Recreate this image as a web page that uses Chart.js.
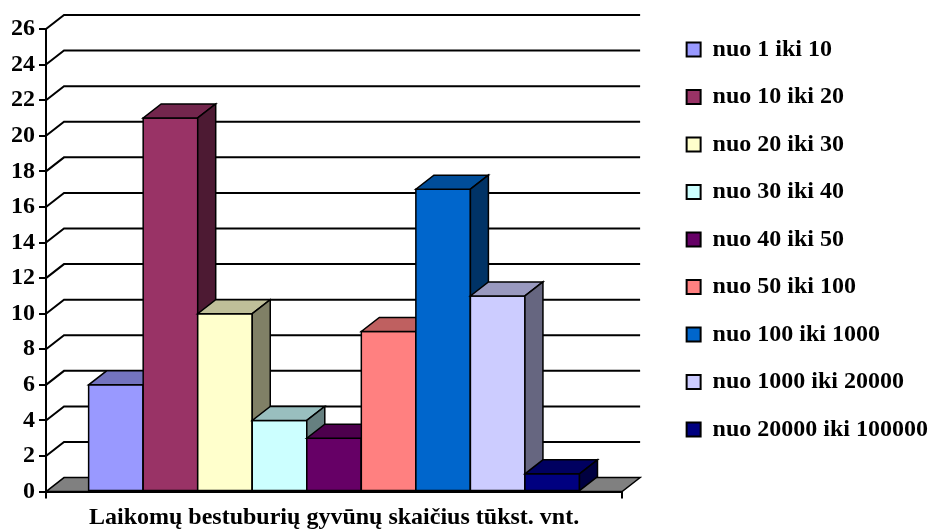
<!DOCTYPE html>
<html>
<head>
<meta charset="utf-8">
<script src="https://cdn.jsdelivr.net/npm/chart.js@4.4.1/dist/chart.umd.min.js"></script>
<style>
  html, body { margin: 0; padding: 0; background: #fff; }
  #wrap { width: 931px; height: 531px; }
</style>
</head>
<body>
<div id="wrap"><canvas id="chart"></canvas></div>
<script>
// series (one bar each) and their values
const groups = [
  'nuo 1 iki 10',
  'nuo 10 iki 20',
  'nuo 20 iki 30',
  'nuo 30 iki 40',
  'nuo 40 iki 50',
  'nuo 50 iki 100',
  'nuo 100 iki 1000',
  'nuo 1000 iki 20000',
  'nuo 20000 iki 100000',
];
const counts = [6, 21, 10, 4, 3, 9, 17, 11, 1];
const categories = [''];
const axisTitle = 'Laikomų bestuburių gyvūnų skaičius tūkst. vnt.';
const yMax = 26;
const yStep = 2;

const barColors = ['#9999FF', '#993366', '#FFFFCC', '#CCFFFF', '#660066', '#FF8080', '#0066CC', '#CCCCFF', '#000080'];

const font = { family: "'Liberation Serif', 'Times New Roman', serif", size: 24, weight: 'bold', lineHeight: 1.1 };
const DX = 18, DY = 14; // depth of the fake 3d

function shade(hex, f) {
  const n = parseInt(hex.slice(1), 16);
  const r = Math.round(((n >> 16) & 255) * f);
  const g = Math.round(((n >> 8) & 255) * f);
  const b = Math.round((n & 255) * f);
  return 'rgb(' + r + ',' + g + ',' + b + ')';
}

function face(ctx, pts, fill) {
  ctx.beginPath();
  ctx.moveTo(pts[0][0], pts[0][1]);
  for (let i = 1; i < pts.length; i++) ctx.lineTo(pts[i][0], pts[i][1]);
  ctx.closePath();
  ctx.fillStyle = fill;
  ctx.fill();
  ctx.stroke();
}

const box3d = {
  id: 'box3d',
  beforeDatasetsDraw(chart) {
    const { ctx, chartArea: a, scales: { y } } = chart;
    ctx.save();
    ctx.strokeStyle = '#000';
    ctx.lineWidth = 2;
    // back wall lines
    y.ticks.forEach((t) => {
      if (t.value === 0) return;
      const py = y.getPixelForValue(t.value);
      ctx.beginPath();
      ctx.moveTo(a.left, py);
      ctx.lineTo(a.left + DX, py - DY);
      ctx.lineTo(a.right + DX, py - DY);
      ctx.stroke();
    });
    // floor
    ctx.lineWidth = 1.5;
    face(ctx, [[a.left, a.bottom], [a.left + DX, a.bottom - DY], [a.right + DX, a.bottom - DY], [a.right, a.bottom]], '#808080');
    ctx.restore();
  },
  afterDatasetsDraw(chart) {
    const ctx = chart.ctx;
    ctx.save();
    ctx.strokeStyle = '#000';
    ctx.lineWidth = 1.5;
    chart.data.datasets.forEach((ds, i) => {
      const bar = chart.getDatasetMeta(i).data[0];
      const { x, y, base, width } = bar.getProps(['x', 'y', 'base', 'width'], true);
      const l = x - width / 2, r = x + width / 2;
      face(ctx, [[l, base], [r, base], [r, y], [l, y]], ds.backgroundColor);
      face(ctx, [[l, y], [r, y], [r + DX, y - DY], [l + DX, y - DY]], shade(ds.backgroundColor, 0.75));
      face(ctx, [[r, base], [r + DX, base - DY], [r + DX, y - DY], [r, y]], shade(ds.backgroundColor, 0.5));
    });
    ctx.restore();
  },
};

new Chart(document.getElementById('chart'), {
  type: 'bar',
  data: {
    labels: categories,
    datasets: groups.map((g, i) => ({
      label: g,
      data: [counts[i]],
      backgroundColor: barColors[i],
      borderColor: '#000',
      borderWidth: 2,
      categoryPercentage: 0.852,
      barPercentage: 1,
    })),
  },
  options: {
    responsive: true,
    maintainAspectRatio: false,
    animation: false,
    layout: { padding: { left: 7, right: -7, top: 14, bottom: 0 } },
    plugins: {
      title: { display: true, text: '', fullSize: false, padding: { top: 0, bottom: 3 }, font: { size: 10, lineHeight: 1.2 } },
      legend: {
        position: 'right',
        align: 'start',
        maxWidth: 320,
        labels: { boxWidth: 14, boxHeight: 14, padding: 23.5, color: '#000', font: font },
      },
      tooltip: { enabled: false },
    },
    scales: {
      x: {
        grid: { offset: true, drawOnChartArea: false, tickLength: 7, color: '#000', lineWidth: 2 },
        border: { color: '#000', width: 2 },
        ticks: { display: false },
        title: { display: true, text: axisTitle, color: '#000', font: font, padding: { top: 6, bottom: 0 } },
      },
      y: {
        min: 0,
        max: yMax,
        ticks: { stepSize: yStep, color: '#000', padding: 4, font: font },
        grid: { drawOnChartArea: false, tickLength: 7, color: '#000', lineWidth: 2 },
        border: { color: '#000', width: 2 },
      },
      y2: {
        position: 'right',
        ticks: { display: false },
        grid: { display: false },
        border: { display: false },
        afterFit(s) { s.width = 41; },
      },
    },
  },
  plugins: [box3d],
});
</script>
</body>
</html>
